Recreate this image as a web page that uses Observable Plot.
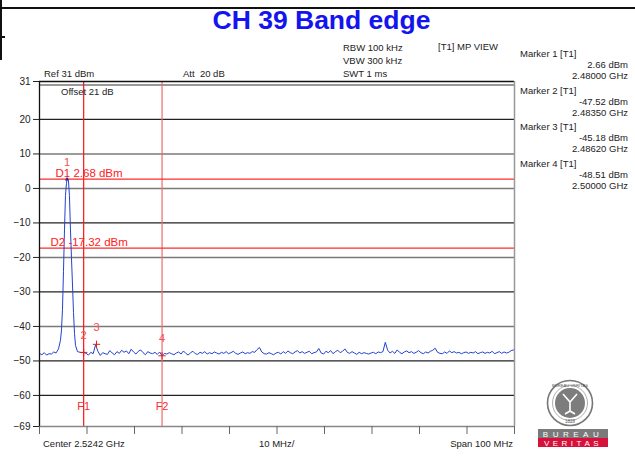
<!DOCTYPE html>
<html><head><meta charset="utf-8">
<script src="https://cdn.jsdelivr.net/npm/d3@7"></script>
<script src="https://cdn.jsdelivr.net/npm/@observablehq/plot@0.6"></script>
<style>
body{margin:0;background:#fff;font-family:"Liberation Sans",Arial,sans-serif;}
#wrap{position:relative;width:635px;height:457px;overflow:hidden;background:#fff;}
#chart{position:absolute;left:0;top:0;}
.t{position:absolute;font-size:9.5px;color:#222;white-space:pre;line-height:10px;}
.r{text-align:right;}
#title{position:absolute;left:0;width:643px;top:4px;text-align:center;font-size:26.5px;font-weight:bold;color:#1414ee;line-height:32px;}
#topline{position:absolute;left:0;top:7px;width:635px;height:0;border-top:2px solid #111;}
#leftline{position:absolute;left:0;top:0;width:0;height:60px;border-left:2px solid #111;}
#notch{position:absolute;left:0;top:36px;width:5px;height:0;border-top:2px solid #111;}
#logo{position:absolute;left:536px;top:378px;}
</style></head>
<body>
<div id="wrap">
  <div id="topline"></div><div id="leftline"></div><div id="notch"></div>
  <div id="chart"></div>
  <div id="title">CH 39 Band edge</div>
  <div id="texts"></div>
  <svg id="logo" width="76" height="72" viewBox="0 0 76 72">
    <circle cx="34" cy="25" r="22.5" fill="#fff" stroke="#777" stroke-width="1.6"/>
    <circle cx="34" cy="25" r="17.5" fill="none" stroke="#999" stroke-width="0.8"/>
    <circle cx="34" cy="25" r="15" fill="#7d7d7d"/>
    <path d="M27 16 L34 24 L41 16 M34 24 L34 33 M29 36 L34 33 L39 36" stroke="#fff" stroke-width="1.6" fill="none"/>
    <text x="34" y="44.5" font-size="4.5" text-anchor="middle" fill="#555" font-family="Liberation Sans">1828</text>
    <text x="34" y="8.8" font-size="4.2" text-anchor="middle" fill="#555" font-family="Liberation Sans">BUREAU VERITAS</text>
    <rect x="2" y="51" width="70" height="9" fill="#7a7a7a"/>
    <text x="37" y="58.5" font-size="8" text-anchor="middle" fill="#fff" letter-spacing="4.5" font-family="Liberation Sans">BUREAU</text>
    <rect x="2" y="60" width="70" height="9" fill="#d8103c"/>
    <text x="37" y="67.5" font-size="8" text-anchor="middle" fill="#fff" letter-spacing="3.5" font-family="Liberation Sans">VERITAS</text>
  </svg>
</div>
<script>
// Axis settings (MHz, dBm)
const fStart = 2474.2, fStop = 2574.2;
const yMin = -69, yMax = 31;
const yTicks = [31, 20, 10, 0, -10, -20, -30, -40, -50, -60, -69];
const xTicks = [2474.2, 2484.2, 2494.2, 2504.2, 2514.2, 2524.2, 2534.2, 2544.2, 2554.2, 2564.2, 2574.2];
const blackGrid = [20, -10, -30, -50, -60];
const grayGrid = [10, 0, -20, -40];
const refLine = [30];

// Limit lines
const F1 = 2483.5, F2 = 2500.0;
const D1 = 2.68, D2 = -17.32;

// Trace: left noise, carrier, right noise
const leftStart = 2474.2, leftStep = 0.5;
const leftNoise = [-47.8,-48.2,-47.6,-48.3,-47.9,-48.0,-47.4,-47.7];
const peakF = [2477.78,2478.2,2478.62,2478.83,2479.04,2479.25,2479.46,2479.67,2479.88,2480.0,2480.3,2480.5,2480.72,2480.93,2481.15,2481.36,2481.57,2481.78,2482.2];
const peakV = [-47.5,-46.5,-44,-41,-35,-24,-12,-2,1.5,2.66,2.2,-2,-12,-20,-28,-36,-42,-45.5,-47.3];
const rightStart = 2482.5, rightStep = 0.5;
const rightNoise = [
-47.4,-47.6,-47.52,-47.8,-48.3,-47.5,-47.9,-45.3,-47.2,-48.4,-47.6,-47.9,-48.1,-47.0,-47.7,-48.2,-47.3,-47.8,-46.9,-47.5,
-47.1,-47.9,-46.6,-47.4,-48.0,-47.2,-46.8,-47.6,-48.2,-47.3,-47.7,-47.9,-47.5,-48.1,-47.4,-48.51,-47.8,-48.0,-47.6,-47.9,
-48.2,-47.7,-47.4,-48.0,-47.1,-47.8,-48.3,-47.6,-47.2,-47.9,-48.1,-47.5,-47.8,-47.3,-48.0,-47.6,-47.9,-47.4,-47.7,-48.0,
-47.5,-47.8,-47.3,-47.9,-47.6,-47.2,-47.8,-48.1,-47.7,-47.4,-47.9,-47.6,-47.8,-47.3,-47.5,-46.7,-46.1,-47.4,-47.9,-48.0,
-47.6,-47.9,-48.2,-47.7,-47.5,-48.0,-47.3,-47.8,-47.1,-47.6,-47.9,-47.4,-47.0,-47.7,-47.3,-47.8,-47.5,-47.2,-47.9,-47.6,
-47.4,-46.4,-47.7,-48.0,-47.2,-47.6,-47.0,-47.9,-47.3,-46.9,-47.6,-47.2,-46.5,-47.5,-47.8,-47.3,-47.7,-48.1,-47.5,-47.9,
-47.6,-47.8,-48.0,-47.7,-47.5,-47.9,-47.4,-47.6,-47.3,-44.6,-46.9,-47.7,-47.2,-47.8,-46.8,-47.5,-47.9,-47.4,-47.1,-47.6,
-47.3,-47.8,-47.5,-47.0,-47.6,-47.9,-47.4,-47.7,-47.2,-46.9,-46.3,-47.5,-47.8,-47.9,-47.4,-47.8,-47.1,-47.6,-47.3,-47.7,
-47.5,-47.9,-47.6,-47.4,-47.8,-47.5,-47.7,-47.3,-47.9,-47.6,-47.4,-47.8,-47.5,-47.7,-47.2,-47.9,-47.6,-47.3,-47.8,-47.4,-47.7,-47.5,-47.0,-46.8
];

// Markers
const markerLabels = ["1", "2", "3", "4"];
const markerF = [2480.0, 2483.5, 2486.2, 2500.0];
const markerV = [2.66, -47.52, -45.18, -48.51];
const markerFText = ["2.48000 GHz", "2.48350 GHz", "2.48620 GHz", "2.50000 GHz"];
const markerVText = ["2.66 dBm", "-47.52 dBm", "-45.18 dBm", "-48.51 dBm"];

const trace = [
  ...leftNoise.map((v, i) => ({f: leftStart + i * leftStep, v})),
  ...peakF.map((f, i) => ({f, v: peakV[i]})),
  ...rightNoise.map((v, i) => ({f: rightStart + i * rightStep, v}))
];
const markers = markerF.map((f, i) => ({f, v: markerV[i], label: markerLabels[i]}));

const chart = Plot.plot({
  width: 635, height: 457,
  marginTop: 81, marginBottom: 31, marginLeft: 39, marginRight: 121,
  x: {domain: [fStart, fStop]},
  y: {domain: [yMin, yMax]},
  style: {fontFamily: "Liberation Sans, Arial, sans-serif", fontSize: "10px", background: "transparent", overflow: "visible", color: "#222"},
  marks: [
    Plot.ruleY(grayGrid, {stroke: "#7a7a7a", strokeWidth: 1.6}),
    Plot.ruleY(blackGrid, {stroke: "#222", strokeWidth: 1.2}),
    Plot.ruleY(refLine, {stroke: "#999", strokeWidth: 2}),
    Plot.ruleX([F1], {stroke: "#ff1010", strokeWidth: 1.2}),
    Plot.ruleX([F2], {stroke: "#f26a6a", strokeWidth: 1.2}),
    Plot.ruleY([D1, D2], {stroke: "#ff2a2a", strokeWidth: 1.2}),
    Plot.line(trace, {x: "f", y: "v", stroke: "#2442d0", strokeWidth: 1}),
    Plot.dot(markers.slice(0, 1), {x: "f", y: "v", symbol: "triangle2", r: 2, fill: "#2a2a90"}),
    Plot.dot(markers.slice(1), {x: "f", y: "v", symbol: "plus", r: 2.5, stroke: "#e02020", strokeWidth: 1}),
    Plot.text(markers, {x: "f", y: "v", text: "label", dy: -17, fill: "#f05050", fontSize: 11}),
    Plot.text([D1], {y: d => d, frameAnchor: "left", dx: 16, dy: -6, textAnchor: "start", text: d => `D1 ${d.toFixed(2)} dBm`, fill: "#ff2020", fontSize: 11.5}),
    Plot.text([D2], {y: d => d, frameAnchor: "left", dx: 11, dy: -6, textAnchor: "start", text: d => `D2 ${d.toFixed(2)} dBm`, fill: "#ff2020", fontSize: 11.5}),
    Plot.text([F1, F2], {x: d => d, frameAnchor: "bottom", dy: -17, text: ["F1", "F2"], fill: "#f03030", fontSize: 11}),
    Plot.ruleY([yMax], {stroke: "#111", strokeWidth: 1.3}),
    Plot.ruleY([yMin], {stroke: "#888", strokeWidth: 1.5}),
    Plot.ruleX([fStart], {stroke: "#111", strokeWidth: 1.3}),
    Plot.ruleX([fStop], {stroke: "#999", strokeWidth: 1.5}),
    Plot.axisY({ticks: yTicks, tickSize: 6, tickPadding: 3, label: null, fontSize: 10}),
    Plot.axisX({ticks: xTicks, tickSize: 8, tickFormat: () => "", label: null, stroke: "#666"})
  ]
});
document.getElementById("chart").appendChild(chart);

// Overlay texts
const texts = [
  {s: "RBW 100 kHz", x: 343, y: 43},
  {s: "VBW 300 kHz", x: 343, y: 56},
  {s: "SWT 1 ms", x: 343, y: 69},
  {s: "[T1] MP VIEW", x: 438, y: 42},
  {s: "Ref 31 dBm", x: 44, y: 69},
  {s: "Att  20 dB", x: 183, y: 69},
  {s: "Offset 21 dB", x: 61, y: 87},
  {s: "Center 2.5242 GHz", x: 43, y: 439},
  {s: "10 MHz/", x: 259, y: 439},
  {s: "Span 100 MHz", right: 513, y: 439}
];
const mBase = [49, 86, 122, 159];
markerLabels.forEach((l, i) => {
  texts.push({s: `Marker ${l} [T1]`, x: 520, y: mBase[i]});
  texts.push({s: markerVText[i], right: 628, y: mBase[i] + 11});
  texts.push({s: markerFText[i], right: 628, y: mBase[i] + 22});
});
const box = document.getElementById("texts");
texts.forEach(t => {
  const d = document.createElement("div");
  d.className = "t";
  d.textContent = t.s;
  d.style.top = t.y + "px";
  if (t.right !== undefined) { d.style.right = (635 - t.right) + "px"; d.classList.add("r"); }
  else d.style.left = t.x + "px";
  box.appendChild(d);
});
</script>
</body></html>
